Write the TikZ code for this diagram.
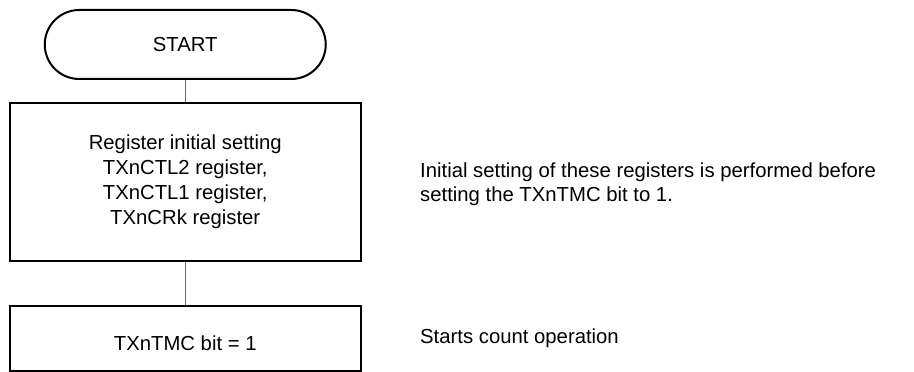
\documentclass[tikz,border=0pt]{standalone}
\usepackage{fontspec}
\setmainfont{Liberation Sans}
\begin{document}
\begin{tikzpicture}[x=1pt,y=1pt,
  every node/.style={font=\fontsize{20.3}{25}\selectfont},
  terminal/.style={draw=black, line width=2pt, rounded corners=34.5pt,
    minimum width=281pt, minimum height=69pt, inner sep=0pt},
  procbox/.style={draw=black, line width=2pt, minimum width=350.5pt,
    inner sep=0pt, align=center},
  link/.style={draw=black!60, line width=1pt},
  note/.style={anchor=west, align=left, inner sep=0pt,
    font=\fontsize{20.3}{23.5}\selectfont}]
\useasboundingbox (0,0) rectangle (914,372);
\node[terminal] (start) at (185.25,327.5) {START};
\node[procbox, minimum height=158pt] (init) at (185.25,190)
  {Register initial setting\\TXnCTL2 register,\\TXnCTL1 register,\\TXnCRk register};
\node[procbox, minimum height=65pt] (tmc) at (185.25,33.5) {};
\node (tmctext) at (185.25,28.5) {TXnTMC bit = 1};
\draw[link] (start.south) -- (init.north);
\draw[link] (init.south) -- (tmc.north);
\node[note] (note1) at (420,187.5)
  {Initial setting of these registers is performed before\\setting the TXnTMC bit to 1.};
\node[note] (note2) at (420,34) {Starts count operation};
\end{tikzpicture}
\end{document}
